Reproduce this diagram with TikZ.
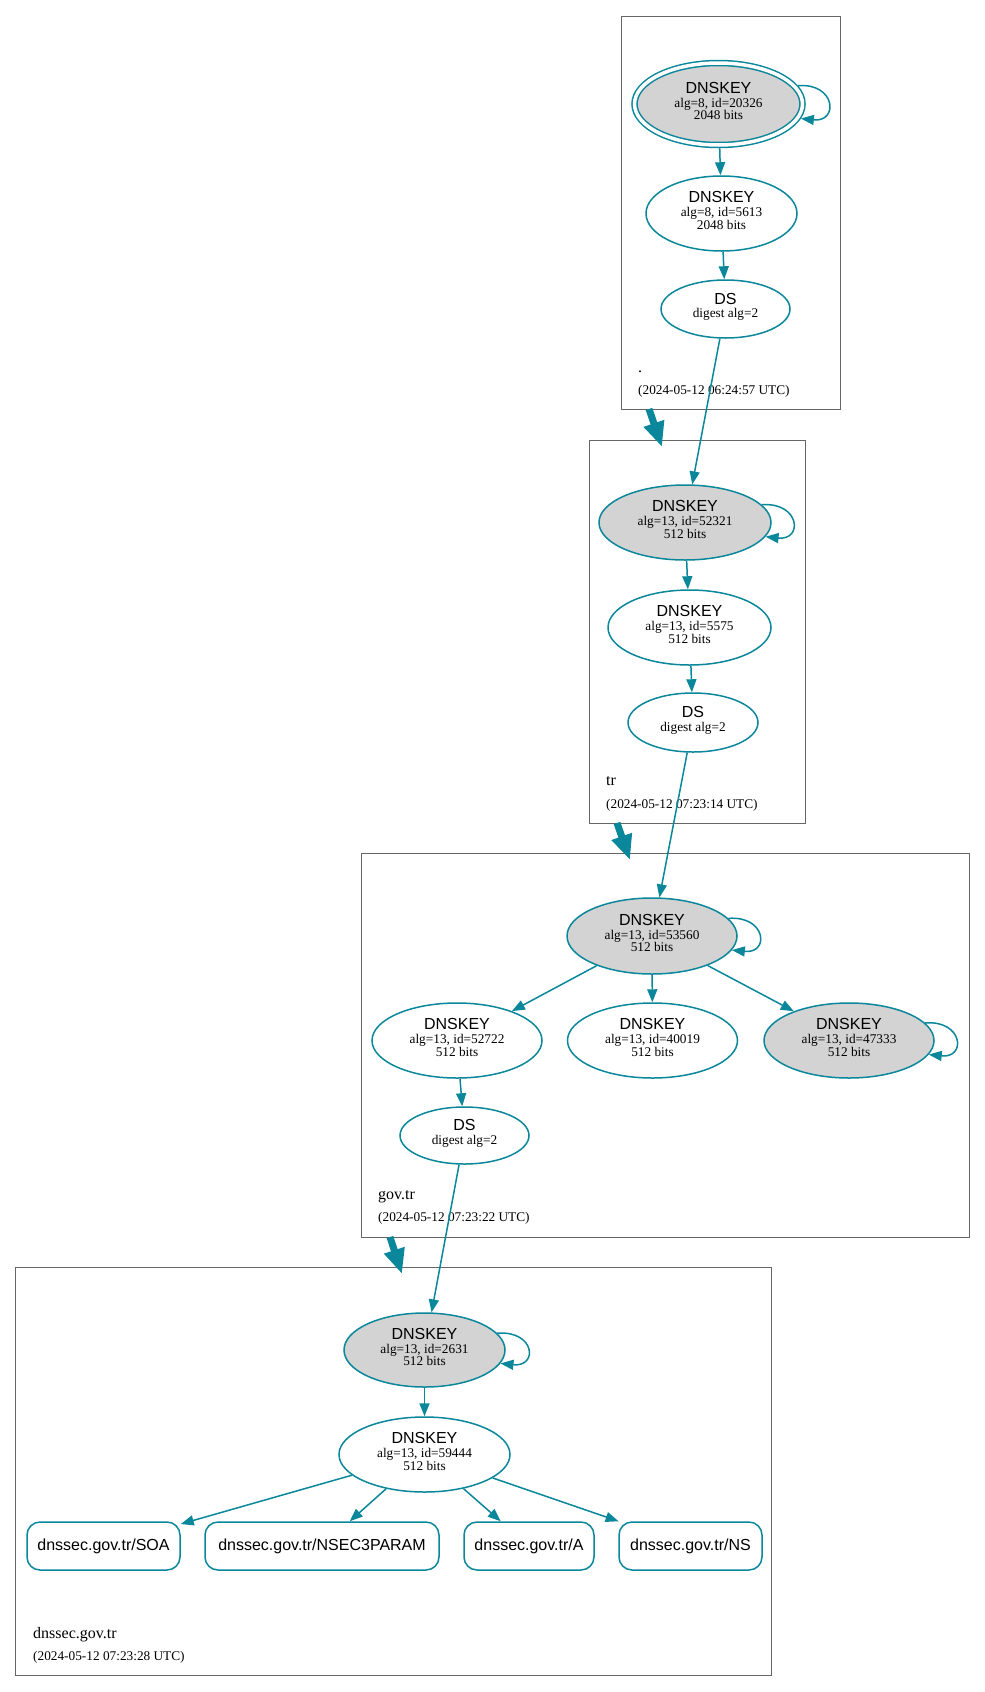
\documentclass[tikz,border=0pt]{standalone}
\usepackage{fontspec}
\setmainfont{Liberation Serif}
\setsansfont{Liberation Sans}
\usetikzlibrary{shapes.geometric,arrows.meta}
\definecolor{tealA}{HTML}{0A879A}
\definecolor{keygray}{HTML}{D3D3D3}
\newcommand{\keytxt}[2]{{\sffamily\fontsize{16}{16}\selectfont DNSKEY}\\[1.5pt]#1\\#2\rule[-6pt]{0pt}{1pt}}
\newcommand{\dstxt}{{\sffamily\fontsize{16}{16}\selectfont DS}\\[1pt]digest alg=2\rule[-7pt]{0pt}{1pt}}
\tikzset{
  edge/.style={draw=tealA, line width=1.5pt, -{Triangle[length=13pt,width=10pt]}},
  bigedge/.style={draw=tealA, line width=7pt, -{Triangle[length=25pt,width=20pt]}},
  key/.style={ellipse, draw=tealA, line width=1.5pt, inner sep=0pt, align=center,
    font=\fontsize{13.3}{12.5}\selectfont},
  ksk/.style={key, fill=keygray},
  cluster/.style={rectangle, draw=black!60, line width=1pt, inner sep=0pt, outer sep=0pt},
  rrbox/.style={rectangle, rounded corners=13pt, draw=tealA, line width=1.5pt,
    minimum height=48pt, font=\sffamily\fontsize{16}{16}\selectfont, inner sep=0pt},
  clabel/.style={anchor=base west, inner sep=0pt, font=\fontsize{16}{16}\selectfont},
  cdate/.style={anchor=base west, inner sep=0pt, font=\fontsize{13.3}{13}\selectfont},
  loopedge/.style={edge},
}
\begin{document}
\begin{tikzpicture}[x=1pt,y=-1pt]
\useasboundingbox (0,0) rectangle (985,1692);
\fill[white] (0,0) rectangle (985,1692);

% clusters
\node[cluster, minimum width=219pt, minimum height=393pt] (clroot) at (730.5,212.5) {};
\node[cluster, minimum width=216pt, minimum height=383pt] (cltr) at (697,631.5) {};
\node[cluster, minimum width=608pt, minimum height=384pt] (clgov) at (665,1045) {};
\node[cluster, minimum width=756pt, minimum height=408pt] (cldns) at (393,1471) {};

% cluster labels
\node[clabel] (lroot) at (638,372) {.};
\node[cdate] (droot) at (638,394) {(2024-05-12 06:24:57 UTC)};
\node[clabel] (ltr) at (606,785) {tr};
\node[cdate] (dtr) at (606,808) {(2024-05-12 07:23:14 UTC)};
\node[clabel] (lgov) at (378,1199) {gov.tr};
\node[cdate] (dgov) at (378,1221) {(2024-05-12 07:23:22 UTC)};
\node[clabel] (ldns) at (33,1638) {dnssec.gov.tr};
\node[cdate] (ddns) at (33,1660) {(2024-05-12 07:23:28 UTC)};

% root zone
\node[ksk, double=white, double distance=3.5pt, outer sep=3.25pt,
      minimum width=168pt, minimum height=82pt] (rootksk) at (718.5,104) {\keytxt{alg=8, id=20326}{2048 bits}};
\node[key, minimum width=151pt, minimum height=75pt] (rootzsk) at (721.5,213.5) {\keytxt{alg=8, id=5613}{2048 bits}};
\node[key, minimum width=129pt, minimum height=58pt] (rootds) at (725.5,309) {\dstxt};

% tr zone
\node[ksk, minimum width=172pt, minimum height=75pt] (trksk) at (685,522.5) {\keytxt{alg=13, id=52321}{512 bits}};
\node[key, minimum width=163pt, minimum height=75pt] (trzsk) at (689.5,627.5) {\keytxt{alg=13, id=5575}{512 bits}};
\node[key, minimum width=130pt, minimum height=59pt] (trds) at (693,722.5) {\dstxt};

% gov.tr zone
\node[ksk, minimum width=170pt, minimum height=76pt] (govksk) at (652,936) {\keytxt{alg=13, id=53560}{512 bits}};
\node[key, minimum width=170pt, minimum height=75pt] (govzskA) at (457,1040.5) {\keytxt{alg=13, id=52722}{512 bits}};
\node[key, minimum width=170pt, minimum height=75pt] (govzskB) at (652.5,1040.5) {\keytxt{alg=13, id=40019}{512 bits}};
\node[ksk, minimum width=170pt, minimum height=75pt] (govkskB) at (849,1040.5) {\keytxt{alg=13, id=47333}{512 bits}};
\node[key, minimum width=129pt, minimum height=57pt] (govds) at (464.5,1135.5) {\dstxt};

% dnssec.gov.tr zone
\node[ksk, minimum width=161pt, minimum height=74pt] (dnsksk) at (424.5,1350) {\keytxt{alg=13, id=2631}{512 bits}};
\node[key, minimum width=171pt, minimum height=75pt] (dnszsk) at (424.5,1454.5) {\keytxt{alg=13, id=59444}{512 bits}};
\node[rrbox, minimum width=153pt] (soa) at (103.5,1546) {dnssec.gov.tr/SOA};
\node[rrbox, minimum width=234pt] (nsec) at (322,1546) {dnssec.gov.tr/NSEC3PARAM};
\node[rrbox, minimum width=130pt] (arec) at (529,1546) {dnssec.gov.tr/A};
\node[rrbox, minimum width=143pt] (nsrec) at (690.5,1546) {dnssec.gov.tr/NS};

% cluster-to-cluster arrows
\coordinate (c1s) at (649,409);
\coordinate (c1e) at (662,447);
\coordinate (c2s) at (617,823);
\coordinate (c2e) at (630,860);
\coordinate (c3s) at (390,1237);
\coordinate (c3e) at (402,1274);
\draw[bigedge] (c1s) -- (c1e);
\draw[bigedge] (c2s) -- (c2e);
\draw[bigedge] (c3s) -- (c3e);

% edges
\draw[edge] (rootksk) -- (rootzsk);
\draw[edge] (rootzsk) -- (rootds);
\draw[edge] (rootds) -- (trksk);
\draw[edge] (trksk) -- (trzsk);
\draw[edge] (trzsk) -- (trds);
\draw[edge] (trds) -- (govksk);
\draw[edge] (govksk) -- (govzskA);
\draw[edge] (govksk) -- (govzskB);
\draw[edge] (govksk) -- (govkskB);
\draw[edge] (govzskA) -- (govds);
\draw[edge] (govds) -- (dnsksk);
\draw[edge] (dnsksk) -- (dnszsk);
\draw[edge] (dnszsk) -- (soa);
\draw[edge] (dnszsk) -- (nsec);
\draw[edge] (dnszsk) -- (arec);
\draw[edge] (dnszsk) -- (nsrec);

% self loops
\draw[loopedge] (rootksk.13) .. controls +(38,-3) and +(38,4) .. (rootksk.-10);
\draw[loopedge] (trksk.13) .. controls +(38,-3) and +(38,4) .. (trksk.-10);
\draw[loopedge] (govksk.13) .. controls +(38,-3) and +(38,4) .. (govksk.-10);
\draw[loopedge] (govkskB.13) .. controls +(38,-3) and +(38,4) .. (govkskB.-10);
\draw[loopedge] (dnsksk.13) .. controls +(38,-3) and +(38,4) .. (dnsksk.-10);
\end{tikzpicture}
\end{document}
